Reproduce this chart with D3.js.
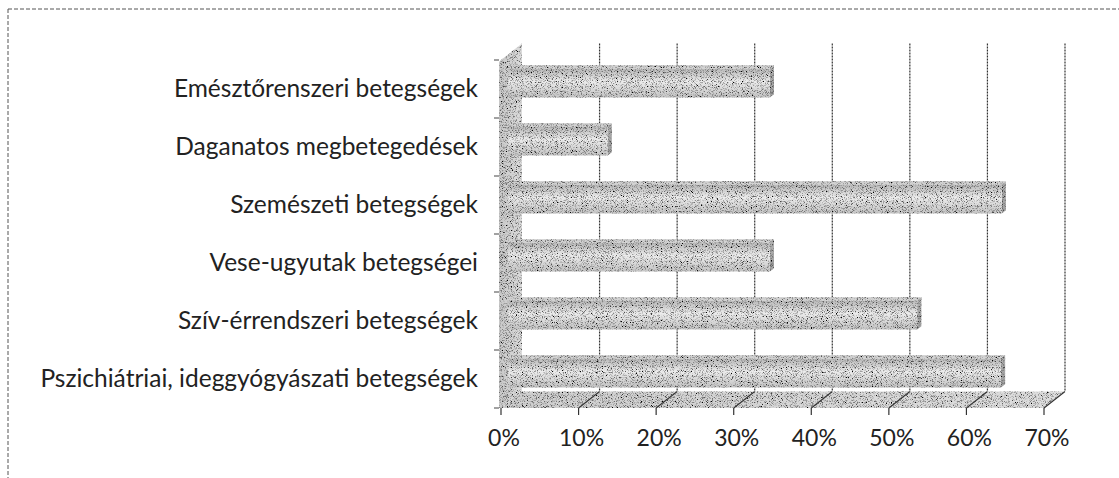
<!DOCTYPE html>
<html><head><meta charset="utf-8">
<script src="https://cdn.jsdelivr.net/npm/d3@7/dist/d3.min.js"></script>
<style>html,body{margin:0;padding:0;background:#fff;}svg{display:block;}</style>
</head><body>
<svg id="c" width="1119" height="478"></svg>
<script>
const categories = ["Emésztőrenszeri betegségek","Daganatos megbetegedések","Szemészeti betegségek","Vese-ugyutak betegségei","Szív-érrendszeri betegségek","Pszichiátriai, ideggyógyászati betegségek"];
const values = [33.7, 12.8, 63.6, 33.7, 52.7, 63.5];
const xTicks = [0, 10, 20, 30, 40, 50, 60, 70];
const xTickLabels = ["0%","10%","20%","30%","40%","50%","60%","70%"];

const svg = d3.select("#c");
const x = d3.scaleLinear().domain([0, 70]).range([501, 1044]);
const y = d3.scaleBand().domain(categories).range([60, 408]);
const DX = 21, DY = -16.5;
const P = (v, z, yy) => [x(v) + DX * z, yy + DY * z];
const poly = pts => "M" + pts.map(p => p.join(",")).join("L") + "Z";
const Y0 = y.range()[0], Y1 = y.range()[1];
const ZF = 0.35, ZB = 0.55;

const defs = svg.append("defs");
const f = defs.append("filter").attr("id", "grain").attr("x", "0").attr("y", "0").attr("width", "1").attr("height", "1");
f.append("feTurbulence").attr("type", "fractalNoise").attr("baseFrequency", "1.2").attr("numOctaves", "1").attr("seed", "7").attr("result", "noise");
f.append("feColorMatrix").attr("in", "noise").attr("type", "matrix")
  .attr("values", "0 0 0 0 0  0 0 0 0 0  0 0 0 0 0  4 0 0 0 -1.95").attr("result", "spots");
f.append("feComposite").attr("in", "spots").attr("in2", "SourceGraphic").attr("operator", "in").attr("result", "dots");
const fm = f.append("feMerge");
fm.append("feMergeNode").attr("in", "SourceGraphic");
fm.append("feMergeNode").attr("in", "dots");

function vgrad(id, stops) {
  const g = defs.append("linearGradient").attr("id", id).attr("x1", 0).attr("y1", 0).attr("x2", 0).attr("y2", 1);
  stops.forEach(s => g.append("stop").attr("offset", s[0]).attr("stop-color", s[1]));
}
function hgrad(id, stops) {
  const g = defs.append("linearGradient").attr("id", id).attr("x1", 0).attr("y1", 0).attr("x2", 1).attr("y2", 0);
  stops.forEach(s => g.append("stop").attr("offset", s[0]).attr("stop-color", s[1]));
}
vgrad("gFront", [[0, "#b8b8b8"], [0.45, "#ececec"], [1, "#c4c4c4"]]);
vgrad("gTop", [[0, "#c8c8c8"], [1, "#d8d8d8"]]);
vgrad("gSide", [[0, "#b0b0b0"], [1, "#a0a0a0"]]);
hgrad("gWall", [[0, "#c8c8c8"], [1, "#dcdcdc"]]);
hgrad("gFloor", [[0, "#cfcfcf"], [1, "#dedede"]]);

// outer border
svg.append("line").attr("x1", 8).attr("y1", 9).attr("x2", 1119).attr("y2", 9)
  .attr("stroke", "#555").attr("stroke-width", 1).attr("stroke-dasharray", "4,2");
svg.append("line").attr("x1", 8).attr("y1", 9).attr("x2", 8).attr("y2", 478)
  .attr("stroke", "#555").attr("stroke-width", 1).attr("stroke-dasharray", "4,2");

// back wall gridlines
svg.append("g").selectAll("path").data(xTicks.slice(1)).join("path")
  .attr("d", v => "M" + P(v, 1, Y0).join(",") + "L" + P(v, 1, Y1).join(","))
  .attr("fill", "none").attr("stroke", "#333").attr("stroke-width", 1.2).attr("stroke-dasharray", "2,1");

// floor
svg.append("path").attr("d", poly([P(0, 0, Y1), P(70, 0, Y1), P(70, 1, Y1), P(0, 1, Y1)]))
  .attr("fill", "url(#gFloor)").attr("filter", "url(#grain)");
svg.append("g").selectAll("path").data(xTicks.slice(1)).join("path")
  .attr("d", v => "M" + P(v, 1, Y1).join(",") + "L" + P(v, 0, Y1).join(","))
  .attr("fill", "none").attr("stroke", "#333").attr("stroke-width", 1.1);

// left wall
svg.append("path").attr("d", poly([[x(0) - 2, Y0 + 2], P(0, 0, Y0), P(0, 1, Y0), P(0, 1, Y1), P(0, 0, Y1), [x(0) - 2, Y1]]))
  .attr("fill", "url(#gWall)").attr("filter", "url(#grain)");

// category ticks
svg.append("g").selectAll("line").data(d3.range(categories.length + 1)).join("line")
  .attr("x1", x(0) - 7).attr("x2", x(0) - 2)
  .attr("y1", i => Y0 + i * y.step()).attr("y2", i => Y0 + i * y.step())
  .attr("stroke", "#444").attr("stroke-width", 1);

// bars
const bars = svg.append("g").selectAll("g").data(categories).join("g");
bars.each(function (c, i) {
  const g = d3.select(this);
  const v = values[i];
  const yt = y(c) + y.bandwidth() * 0.245, yb = y(c) + y.bandwidth() * 0.745;
  g.append("path").attr("d", poly([P(0, ZF, yt), P(v, ZF, yt), P(v, ZB, yt), P(0, ZB, yt)]))
    .attr("fill", "url(#gTop)").attr("filter", "url(#grain)");
  g.append("path").attr("d", poly([P(v, ZF, yt), P(v, ZB, yt), P(v, ZB, yb), P(v, ZF, yb)]))
    .attr("fill", "url(#gSide)").attr("filter", "url(#grain)");
  g.append("path").attr("d", poly([P(0, ZF, yt), P(v, ZF, yt), P(v, ZF, yb), P(0, ZF, yb)]))
    .attr("fill", "url(#gFront)").attr("filter", "url(#grain)");
});

// x ticks
svg.append("g").selectAll("line").data(xTicks).join("line")
  .attr("x1", v => x(v)).attr("x2", v => x(v)).attr("y1", Y1).attr("y2", Y1 + 7)
  .attr("stroke", "#333").attr("stroke-width", 1.2);
svg.append("g").selectAll("text").data(xTicks).join("text")
  .attr("x", v => x(v) + 3).attr("y", 446).attr("text-anchor", "middle")
  .attr("font-family", "Lato, sans-serif").attr("font-size", 23).attr("fill", "#222")
  .text((v, i) => xTickLabels[i]);

// category labels
svg.append("g").selectAll("text").data(categories).join("text")
  .attr("x", 478).attr("y", c => y(c) + y.bandwidth() / 2 + 8).attr("text-anchor", "end")
  .attr("font-family", "Lato, sans-serif").attr("font-size", 24.5).attr("fill", "#222")
  .text(c => c);
</script>
</body></html>
